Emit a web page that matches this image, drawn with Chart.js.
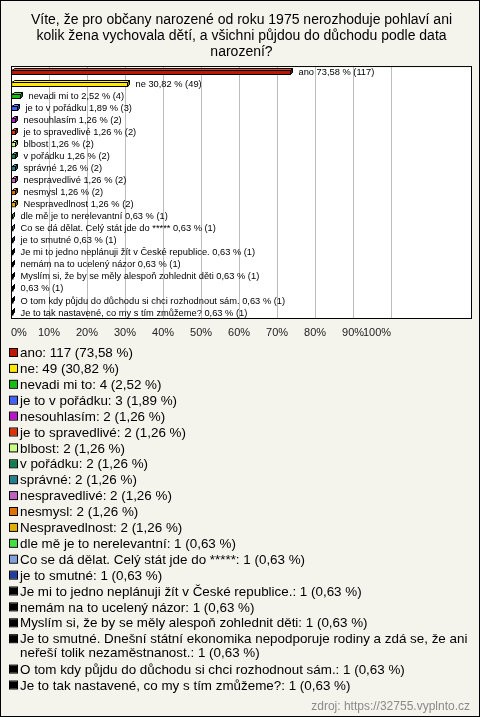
<!DOCTYPE html>
<html>
<head>
<meta charset="utf-8">
<script src="https://cdn.jsdelivr.net/npm/chart.js@4"></script>
<style>
html, body { margin: 0; padding: 0; background: #f4f3ec; }
canvas { display: block; }
</style>
</head>
<body>
<canvas id="chart" width="480" height="717"></canvas>
<script>
const titleLines = [
    'Víte, že pro občany narozené od roku 1975 nerozhoduje pohlaví ani',
    'kolik žena vychovala dětí, a všichni půjdou do důchodu podle data',
    'narození?'
];
const categories = [
    'ano', 'ne', 'nevadi mi to', 'je to v pořádku', 'nesouhlasím',
    'je to spravedlivé', 'blbost', 'v pořádku', 'správné', 'nespravedlivé',
    'nesmysl', 'Nespravedlnost', 'dle mě je to nerelevantní',
    'Co se dá dělat. Celý stát jde do *****', 'je to smutné',
    'Je mi to jedno neplánuji žít v České republice.',
    'nemám na to ucelený názor',
    'Myslím si, že by se měly alespoň zohlednit děti',
    'Je to smutné. Dnešní státní ekonomika nepodporuje rodiny a zdá se, že ani neřeší tolik nezaměstnanost.',
    'O tom kdy půjdu do důchodu si chci rozhodnout sám.',
    'Je to tak nastavené, co my s tím zmůžeme?'
];
const counts = [117, 49, 4, 3, 2, 2, 2, 2, 2, 2, 2, 2, 1, 1, 1, 1, 1, 1, 1, 1, 1];
const percents = [73.58, 30.82, 2.52, 1.89, 1.26, 1.26, 1.26, 1.26, 1.26, 1.26, 1.26, 1.26,
    0.63, 0.63, 0.63, 0.63, 0.63, 0.63, 0.63, 0.63, 0.63];
const colors = ['#c01800', '#ffe800', '#10c010', '#4060ff', '#c010d0', '#e03000', '#c8ff80',
    '#108050', '#208090', '#c060c0', '#e07000', '#e0b000', '#40e040', '#80a0e0', '#2040a0',
    '#000000', '#000000', '#000000', '#000000', '#000000', '#000000'];
const tickMax = 100;
const tickStep = 10;
const source = 'zdroj: https://32755.vyplnto.cz';

const FONT = '"Liberation Sans", Arial, sans-serif';
const D = 2;

function fmt(v) {
    return v.toFixed(2).replace('.', ',');
}

function shade(hex, k) {
    const n = parseInt(hex.slice(1), 16);
    const ch = [(n >> 16) & 255, (n >> 8) & 255, n & 255].map(c => {
        const v = k > 1 ? c + (255 - c) * (k - 1) : c * k;
        return Math.round(Math.min(255, v));
    });
    return 'rgb(' + ch.join(',') + ')';
}

// plot background behind everything the chart draws
const plotBg = {
    id: 'plotBg',
    beforeDraw(chart) {
        const { ctx, chartArea: a } = chart;
        ctx.save();
        ctx.fillStyle = '#f4f3ec';
        ctx.fillRect(0, 0, chart.width, chart.height);
        ctx.fillStyle = '#ffffff';
        ctx.fillRect(a.left, a.top, a.width, a.height);
        ctx.restore();
    }
};

// plot frame, legend and source line
const frame = {
    id: 'frame',
    afterDraw(chart) {
        const { ctx, chartArea: a } = chart;
        ctx.save();
        ctx.strokeStyle = '#000';
        ctx.lineWidth = 1;
        ctx.strokeRect(a.left + 0.5, a.top + 0.5, a.width - 1, a.height - 1);
        ctx.strokeRect(0.5, 0.5, chart.width - 1, chart.height - 1);

        ctx.font = '13.4px ' + FONT;
        ctx.textBaseline = 'middle';
        ctx.textAlign = 'left';
        let y = 353;
        categories.forEach((cat, i) => {
            const text = cat + ': ' + counts[i] + ' (' + fmt(percents[i]) + ' %)';
            ctx.fillStyle = colors[i];
            ctx.fillRect(10, y - 4, 7, 7);
            ctx.strokeStyle = '#000';
            ctx.strokeRect(9.5, y - 4.5, 8, 8);
            ctx.fillStyle = '#000';
            const words = text.split(' ');
            let line = '';
            const lines = [];
            words.forEach(w => {
                const test = line ? line + ' ' + w : w;
                if (ctx.measureText(test).width > 452 && line) {
                    lines.push(line);
                    line = w;
                } else {
                    line = test;
                }
            });
            lines.push(line);
            lines.forEach((l, j) => ctx.fillText(l, 20, y + 0.5 + j * 14));
            y += 15.9 + (lines.length - 1) * 14.5;
        });

        ctx.font = '12px ' + FONT;
        ctx.fillStyle = '#8a8a8a';
        ctx.textAlign = 'right';
        ctx.fillText(source, 470, 707);
        ctx.restore();
    }
};

// 3D faces and value labels next to bars
const depth = {
    id: 'depth',
    afterDatasetsDraw(chart) {
        const ctx = chart.ctx;
        const meta = chart.getDatasetMeta(0);
        ctx.save();
        ctx.lineWidth = 1;
        ctx.strokeStyle = '#000';
        meta.data.forEach((bar, i) => {
            const p = bar.getProps(['x', 'y', 'base', 'height'], true);
            const x0 = Math.round(p.base) + 0.5;
            const x1 = Math.round(p.x) - 0.5;
            const top = Math.round(p.y - p.height / 2) + 0.5;
            const bot = Math.round(p.y + p.height / 2) - 0.5;
            ctx.beginPath();
            ctx.moveTo(x0, top);
            ctx.lineTo(x0 + D, top - D);
            ctx.lineTo(x1 + D, top - D);
            ctx.lineTo(x1, top);
            ctx.closePath();
            ctx.fillStyle = shade(colors[i], 1.25);
            ctx.fill();
            ctx.stroke();
            ctx.beginPath();
            ctx.moveTo(x1, top);
            ctx.lineTo(x1 + D, top - D);
            ctx.lineTo(x1 + D, bot - D);
            ctx.lineTo(x1, bot);
            ctx.closePath();
            ctx.fillStyle = shade(colors[i], 0.6);
            ctx.fill();
            ctx.stroke();

            const name = categories[i].length > 80 ? '' : categories[i] + ' ';
            ctx.font = '9.3px ' + FONT;
            ctx.fillStyle = '#000';
            ctx.textBaseline = 'middle';
            ctx.fillText(name + fmt(percents[i]) + ' % (' + counts[i] + ')', x1 + D + 6, p.y);
        });
        ctx.restore();
    }
};

new Chart(document.getElementById('chart'), {
    type: 'bar',
    data: {
        labels: categories,
        datasets: [{
            data: percents,
            backgroundColor: colors,
            borderColor: '#000',
            borderWidth: 1,
            borderSkipped: false,
            barThickness: 5
        }]
    },
    options: {
        indexAxis: 'y',
        responsive: false,
        animation: false,
        layout: { padding: { left: 11, right: 8, top: 0, bottom: 378 } },
        scales: {
            x: {
                min: 0,
                max: 121.3,
                afterFit: function (scale) {
                    scale.height = 20;
                    scale.paddingLeft = 0;
                    scale.paddingRight = 0;
                },
                grid: {
                    drawTicks: false,
                    lineWidth: 1,
                    color: c => (c.tick && c.tick.value <= tickMax ? '#bcbcbc' : 'rgba(0,0,0,0)')
                },
                border: { display: false },
                ticks: {
                    stepSize: tickStep,
                    autoSkip: false,
                    maxRotation: 0,
                    align: 'inner',
                    padding: 7,
                    color: '#222',
                    font: { family: FONT, size: 11 },
                    callback: v => (v <= tickMax && v % tickStep === 0 ? v + '%' : null)
                }
            },
            y: { display: false }
        },
        plugins: {
            legend: { display: false },
            tooltip: { enabled: false },
            title: {
                display: true,
                text: titleLines,
                color: '#000',
                font: { family: FONT, size: 14, weight: 'normal', lineHeight: 1.12 },
                padding: { top: 12.7, bottom: 6.3 }
            }
        }
    },
    plugins: [plotBg, frame, depth]
});
</script>
</body>
</html>
